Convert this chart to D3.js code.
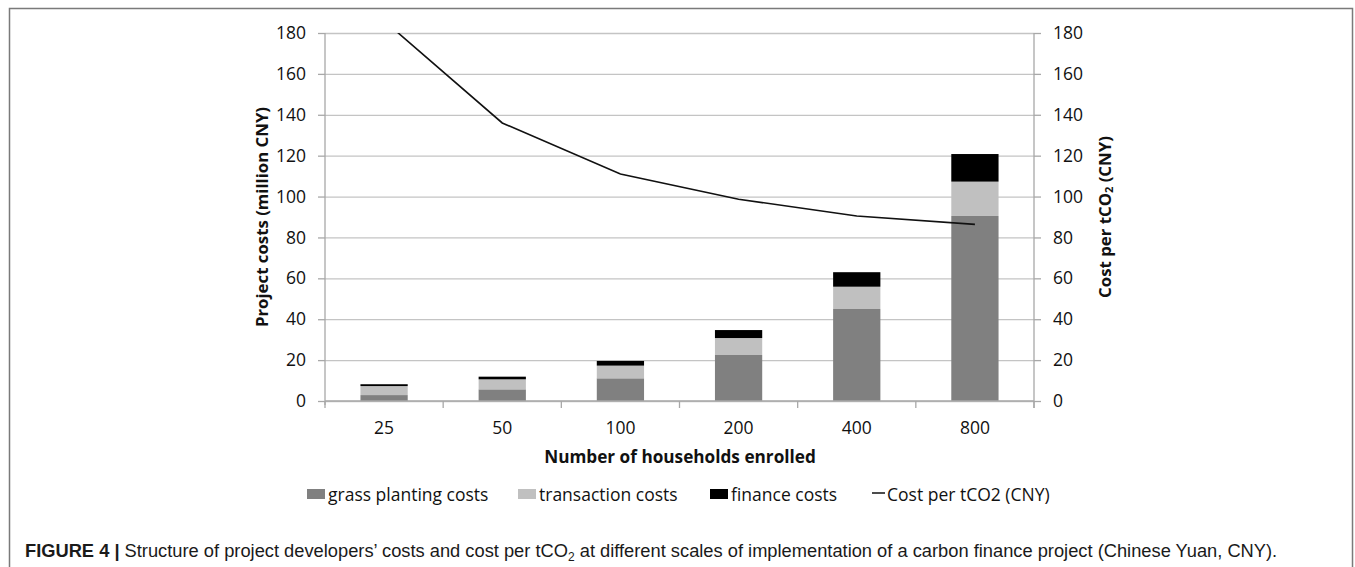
<!DOCTYPE html>
<html>
<head>
<meta charset="utf-8">
<script src="https://cdn.jsdelivr.net/npm/d3@7"></script>
<style>
  html, body { margin: 0; padding: 0; background: #fff; }
  svg { display: block; }
  .chart text { font-family: "Open Sans", Lato, sans-serif; fill: #111; }
  .caption { font-family: "Liberation Sans", Arial, sans-serif; }
</style>
</head>
<body>
<svg id="fig" width="1355" height="567"></svg>
<script>
// Households enrolled per scenario
const categories = ["25", "50", "100", "200", "400", "800"];
// Project costs, million CNY
const grassPlanting = [2.9, 5.7, 11.1, 22.5, 45, 90.5];
const transaction = [4.4, 4.9, 6.2, 8.3, 10.9, 16.8];
const finance = [0.9, 1.3, 2.3, 3.9, 7.1, 13.5];
// Cost per tCO2, CNY
const costPerTCO2 = [186, 136, 111, 98.7, 90.5, 86.4];
// Axis ticks
const leftTicks = [0, 20, 40, 60, 80, 100, 120, 140, 160, 180];
const rightTicks = [0, 20, 40, 60, 80, 100, 120, 140, 160, 180];

const seriesNames = ["grass planting costs", "transaction costs", "finance costs"];
const seriesColors = ["#808080", "#c0c0c0", "#000000"];

const svg = d3.select("#fig");
const FONT = "'Open Sans', Lato, sans-serif";
const FS = 17.5;      // tick labels and legend
const FS_TITLE = 16.8; // axis titles

// outer figure frame (open at the bottom edge of the view)
svg.append("rect")
  .attr("x", 9.5).attr("y", 8.5)
  .attr("width", 1343).attr("height", 620)
  .attr("fill", "none").attr("stroke", "#7a7a7a").attr("stroke-width", 1.5);

const plot = { left: 325, right: 1034, top: 33, bottom: 401 };

const x = d3.scaleBand()
  .domain(categories)
  .range([plot.left, plot.right])
  .paddingInner(0.6)
  .paddingOuter(0.3);

const yLeft = d3.scaleLinear().domain([0, 180]).range([plot.bottom, plot.top]);
const yRight = d3.scaleLinear().domain([0, 180]).range([plot.bottom, plot.top]);

const g = svg.append("g").attr("class", "chart");

// horizontal gridlines
g.append("g")
  .attr("transform", `translate(${plot.left},0)`)
  .call(d3.axisLeft(yLeft).tickValues(leftTicks).tickSize(-(plot.right - plot.left)).tickFormat(""))
  .call(s => s.select(".domain").remove())
  .call(s => s.selectAll(".tick line").attr("stroke", "#c4c4c4").attr("stroke-width", 1.3));

// stacked bars
const rows = categories.map((c, i) => ({
  cat: c, grass: grassPlanting[i], trans: transaction[i], fin: finance[i]
}));
const stack = d3.stack().keys(["grass", "trans", "fin"]);
const layers = stack(rows);

g.append("g").selectAll("g")
  .data(layers)
  .join("g")
  .attr("fill", (d, i) => seriesColors[i])
  .selectAll("rect")
  .data(d => d)
  .join("rect")
  .attr("x", d => x(d.data.cat))
  .attr("width", x.bandwidth())
  .attr("y", d => yLeft(d[1]))
  .attr("height", d => yLeft(d[0]) - yLeft(d[1]));

// cost per tCO2 line, clipped to the plotting area
svg.append("defs").append("clipPath").attr("id", "plotClip")
  .append("rect")
  .attr("x", plot.left).attr("y", plot.top)
  .attr("width", plot.right - plot.left).attr("height", plot.bottom - plot.top);

const line = d3.line()
  .x((d, i) => x(categories[i]) + x.bandwidth() / 2)
  .y(d => yRight(d));

g.append("path")
  .datum(costPerTCO2)
  .attr("clip-path", "url(#plotClip)")
  .attr("d", line)
  .attr("fill", "none")
  .attr("stroke", "#111")
  .attr("stroke-width", 1.6);

const axisColor = "#a8a8a8";

// left axis
const leftAxis = g.append("g")
  .attr("transform", `translate(${plot.left},0)`)
  .call(d3.axisLeft(yLeft).tickValues(leftTicks).tickSize(7).tickPadding(12));
leftAxis.select(".domain").attr("d", `M0,${plot.top}V${plot.bottom + 4}`).attr("stroke", axisColor).attr("stroke-width", 1.3);
leftAxis.selectAll(".tick line").attr("stroke", axisColor).attr("stroke-width", 1.3);
leftAxis.selectAll(".tick text").attr("font-size", FS).attr("font-family", FONT).attr("fill", "#111");

// right axis
const rightAxis = g.append("g")
  .attr("transform", `translate(${plot.right},0)`)
  .call(d3.axisRight(yRight).tickValues(rightTicks).tickSize(7).tickPadding(12));
rightAxis.select(".domain").attr("d", `M0,${plot.top}V${plot.bottom + 7}`).attr("stroke", axisColor).attr("stroke-width", 1.3);
rightAxis.selectAll(".tick line").attr("stroke", axisColor).attr("stroke-width", 1.3);
rightAxis.selectAll(".tick text").attr("font-size", FS).attr("font-family", FONT).attr("fill", "#111");

// category axis
const xAxis = g.append("g")
  .attr("transform", `translate(0,${plot.bottom})`)
  .call(d3.axisBottom(x).tickSize(0).tickPadding(21));
xAxis.select(".domain").attr("d", `M${plot.left},0H${plot.right}`).attr("stroke", axisColor).attr("stroke-width", 1.3);
xAxis.selectAll(".tick text").attr("font-size", FS).attr("font-family", FONT).attr("fill", "#111");
// tick marks between categories
xAxis.append("g").selectAll("line")
  .data(d3.range(categories.length + 1))
  .join("line")
  .attr("x1", i => plot.left + i * x.step())
  .attr("x2", i => plot.left + i * x.step())
  .attr("y1", 0).attr("y2", 7)
  .attr("stroke", axisColor).attr("stroke-width", 1.3);

// axis titles
g.append("text")
  .attr("transform", `translate(261,${(plot.top + plot.bottom) / 2}) rotate(-90)`)
  .attr("text-anchor", "middle")
  .attr("dominant-baseline", "central")
  .attr("font-size", FS_TITLE).attr("font-weight", "bold")
  .text("Project costs (million CNY)");

const rt = g.append("text")
  .attr("transform", `translate(1104,${(plot.top + plot.bottom) / 2}) rotate(-90)`)
  .attr("text-anchor", "middle")
  .attr("dominant-baseline", "central")
  .attr("font-size", FS_TITLE).attr("font-weight", "bold");
rt.append("tspan").text("Cost per tCO");
rt.append("tspan").attr("font-size", 11).attr("dy", 4).text("2");
rt.append("tspan").attr("dy", -4).text(" (CNY)");

g.append("text")
  .attr("x", 680)
  .attr("y", 463)
  .attr("text-anchor", "middle")
  .attr("font-size", 17.2).attr("font-weight", "bold")
  .text("Number of households enrolled");

// legend
const legendY = 494;
const legendX = [307, 518, 710];
seriesNames.forEach((name, i) => {
  g.append("rect")
    .attr("x", legendX[i]).attr("y", legendY - 5)
    .attr("width", 18).attr("height", 10)
    .attr("fill", seriesColors[i]);
  g.append("text")
    .attr("x", legendX[i] + 21).attr("y", legendY)
    .attr("dominant-baseline", "central")
    .attr("font-size", FS)
    .text(name);
});
g.append("line")
  .attr("x1", 872).attr("x2", 885)
  .attr("y1", legendY - 1).attr("y2", legendY - 1)
  .attr("stroke", "#111").attr("stroke-width", 1.5);
g.append("text")
  .attr("x", 887).attr("y", legendY)
  .attr("dominant-baseline", "central")
  .attr("font-size", FS)
  .text("Cost per tCO2 (CNY)");

// figure caption
const cap = svg.append("text")
  .attr("class", "caption")
  .attr("x", 25).attr("y", 557)
  .attr("font-size", 18.3)
  .attr("fill", "#1a1a1a");
cap.append("tspan").attr("font-weight", "bold").text("FIGURE 4 | ");
cap.append("tspan").text("Structure of project developers\u2019 costs and cost per tCO");
cap.append("tspan").attr("font-size", 12).attr("dy", 4).text("2");
cap.append("tspan").attr("dy", -4).text(" at different scales of implementation of a carbon finance project (Chinese Yuan, CNY).");
</script>
</body>
</html>
